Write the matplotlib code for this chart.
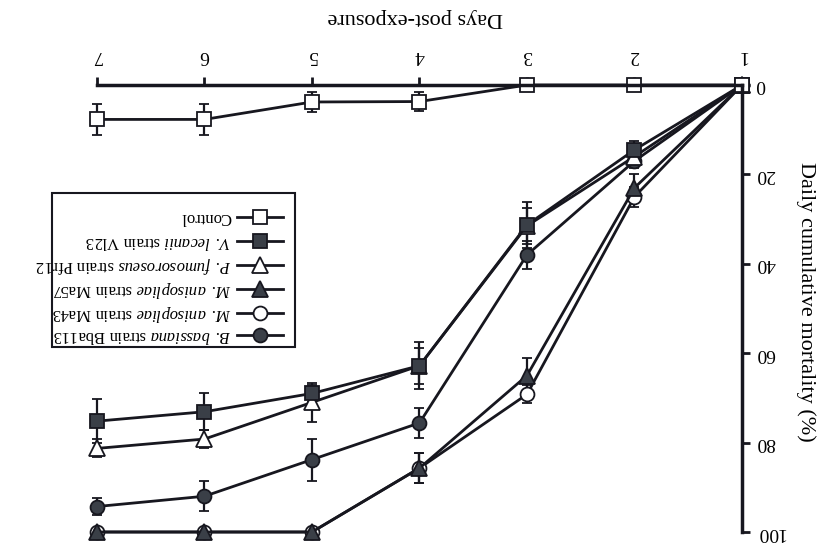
import matplotlib
matplotlib.use("Agg")
import matplotlib.pyplot as plt
from matplotlib.lines import Line2D
from matplotlib.patches import Rectangle

plt.rcParams['font.family'] = ['Liberation Serif', 'DejaVu Serif']
plt.rcParams['mathtext.fontset'] = 'custom'
plt.rcParams['mathtext.rm'] = 'Liberation Serif'
plt.rcParams['mathtext.it'] = 'Liberation Serif:italic'

days = [1, 2, 3, 4, 5, 6, 7]

bassiana = [0, 17, 38, 75.6, 83.8, 92, 94.3]
bassiana_err = [0, 1.5, 3.2, 3.3, 4.7, 3.4, 2.0]

ma43 = [0, 25, 69.2, 85.7, 100, 100, 100]
ma43_err = [0, 2.2, 2.0, 3.3, 0, 0, 0]

ma57 = [0, 23, 65, 85.7, 100, 100, 100]
ma57_err = [0, 3.0, 3.9, 3.3, 0, 0, 0]

pfr12 = [0, 16, 31.5, 62.8, 71, 79.2, 81.3]
pfr12_err = [0, 2.0, 4.0, 4.0, 4.3, 2.0, 2.0]

vl23 = [0, 14.5, 31.3, 62.8, 69.0, 73.1, 75.2]
vl23_err = [0, 2.0, 5.2, 5.3, 1.9, 4.1, 4.9]

control = [0, 0, 0, 3.7, 3.8, 7.7, 7.7]
control_err = [0, 0, 0, 2.2, 2.3, 3.5, 3.5]

labels = [r'$\mathit{B.}$ $\mathit{bassiana}$ strain Bba113',
          r'$\mathit{M.}$ $\mathit{anisopliae}$ strain Ma43',
          r'$\mathit{M.}$ $\mathit{anisopliae}$ strain Ma57',
          r'$\mathit{P.}$ $\mathit{fumosoroseus}$ strain Pfr12',
          r'$\mathit{V.}$ $\mathit{lecanii}$ strain Vl23',
          'Control']

ink = '#17171f'
fill = '#3a3f47'

series = [
    (bassiana, bassiana_err, 'o', fill),
    (ma43, ma43_err, 'o', 'white'),
    (ma57, ma57_err, '^', fill),
    (pfr12, pfr12_err, '^', 'white'),
    (vl23, vl23_err, 's', fill),
    (control, control_err, 's', 'white'),
]

W, H = 826, 550
fig = plt.figure(figsize=(W / 100, H / 100), dpi=100)
# the printed figure is upside down: x runs right->left, y top->bottom
ax = fig.add_axes([97 / W, 1 - 532 / H, (742 - 97) / W, (532 - 85) / H])
ax.set_xlim(7, 1)
ax.set_ylim(100, 0)

for vals, err, mk, fc in series:
    cont = ax.errorbar(days, vals, yerr=err, fmt='-', marker=mk, color=ink,
                       mfc=fc, mec=ink, mew=1.3, ms=10 if mk != '^' else 11,
                       lw=2, elinewidth=1.6, capsize=3.6, capthick=1.6)
    for art in cont.get_children():
        art.set_clip_on(False)

for side in ['left', 'bottom']:
    ax.spines[side].set_visible(False)
for side in ['top', 'right']:
    ax.spines[side].set_linewidth(2.5)
    ax.spines[side].set_color(ink)

ax.xaxis.tick_top()
ax.yaxis.tick_right()
ax.set_xticks(days)
ax.set_yticks([0, 20, 40, 60, 80, 100])
ax.tick_params(direction='out', length=6, width=2, color=ink, labelsize=14,
               labelrotation=180)
ax.tick_params(axis='x', pad=9)
ax.tick_params(axis='y', pad=4)
for t in ax.get_yticklabels():
    t.set_va('center')

fig.text(415 / W, 1 - 18 / H, 'Days post-exposure', rotation=180,
         ha='center', va='center', fontsize=16)
fig.text(806 / W, 1 - 302 / H, 'Daily cumulative mortality (%)', rotation=270,
         ha='center', va='center', fontsize=16)

# hand-drawn legend, upside down like the rest of the page
fig.patches.append(Rectangle((52 / W, 1 - 347 / H), (295 - 52) / W, (347 - 193) / H,
                             transform=fig.transFigure, fill=False, lw=1.5,
                             edgecolor=ink))
rows = [335, 313, 289, 265, 241, 217]
for (vals, err, mk, fc), lab, ry in zip(series, labels, rows):
    yy = 1 - ry / H
    fig.lines.append(Line2D([237 / W, 283 / W], [yy, yy], transform=fig.transFigure,
                            color=ink, lw=2))
    fig.lines.append(Line2D([260 / W], [yy], transform=fig.transFigure, marker=mk,
                            ms=10 if mk != '^' else 11, mfc=fc, mec=ink, mew=1.3,
                            linestyle='none'))
    fig.text(231 / W, yy, lab, rotation=180, ha='right', va='center', fontsize=12)

fig.savefig('out.png', dpi=100, facecolor='white')
